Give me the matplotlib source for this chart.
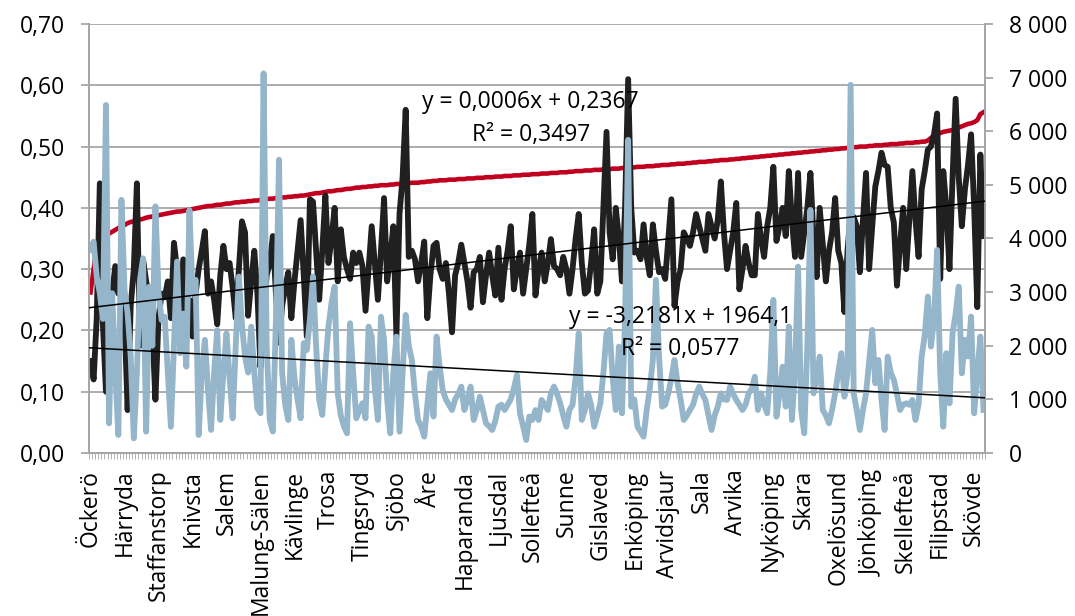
import numpy as np
import matplotlib
matplotlib.use('Agg')
import matplotlib.pyplot as plt
from matplotlib.ticker import FuncFormatter, MultipleLocator

plt.rcParams['font.family'] = ['Open Sans', 'DejaVu Sans']

# every 11th municipality is labelled on the x axis
label_step = 11
labels = ['Öckerö', 'Härryda', 'Staffanstorp', 'Knivsta', 'Salem', 'Malung-Sälen',
          'Kävlinge', 'Trosa', 'Tingsryd', 'Sjöbo', 'Åre', 'Haparanda', 'Ljusdal',
          'Sollefteå', 'Sunne', 'Gislaved', 'Enköping', 'Arvidsjaur', 'Sala', 'Arvika',
          'Nyköping', 'Skara', 'Oxelösund', 'Jönköping', 'Skellefteå', 'Filipstad', 'Skövde']

# red series (left axis), sorted
red = [0.262, 0.30, 0.335, 0.349, 0.352, 0.355, 0.358, 0.361, 0.364, 0.367,
       0.370, 0.372, 0.375, 0.377, 0.378, 0.380, 0.381, 0.382, 0.384, 0.385,
       0.386, 0.387, 0.388, 0.389, 0.390, 0.391, 0.392, 0.393, 0.394, 0.394,
       0.395, 0.396, 0.397, 0.398, 0.399, 0.400, 0.401, 0.402, 0.403, 0.403,
       0.404, 0.405, 0.405, 0.406, 0.407, 0.407, 0.408, 0.409, 0.409, 0.410,
       0.410, 0.411, 0.411, 0.412, 0.412, 0.413, 0.414, 0.414, 0.415, 0.415,
       0.416, 0.416, 0.417, 0.417, 0.418, 0.418, 0.419, 0.419, 0.420, 0.420,
       0.421, 0.422, 0.423, 0.424, 0.424, 0.425, 0.426, 0.427, 0.427, 0.428,
       0.429, 0.429, 0.430, 0.431, 0.431, 0.432, 0.433, 0.433, 0.434, 0.434,
       0.435, 0.435, 0.436, 0.436, 0.437, 0.437, 0.437, 0.438, 0.438, 0.439,
       0.439, 0.439, 0.440, 0.440, 0.441, 0.441, 0.441, 0.442, 0.442, 0.443,
       0.443, 0.444, 0.444, 0.445, 0.445, 0.445, 0.446, 0.446, 0.446, 0.447,
       0.447, 0.447, 0.448, 0.448, 0.448, 0.449, 0.449, 0.449, 0.450, 0.450,
       0.450, 0.451, 0.451, 0.451, 0.452, 0.452, 0.452, 0.453, 0.453, 0.453,
       0.454, 0.454, 0.454, 0.455, 0.455, 0.455, 0.456, 0.456, 0.456, 0.457,
       0.457, 0.457, 0.458, 0.458, 0.458, 0.459, 0.459, 0.460, 0.460, 0.460,
       0.461, 0.461, 0.461, 0.462, 0.462, 0.462, 0.463, 0.463, 0.463, 0.464,
       0.464, 0.464, 0.465, 0.465, 0.465, 0.466, 0.466, 0.467, 0.467, 0.467,
       0.468, 0.468, 0.468, 0.469, 0.469, 0.470, 0.470, 0.470, 0.471, 0.471,
       0.472, 0.472, 0.472, 0.473, 0.473, 0.474, 0.474, 0.475, 0.475, 0.475,
       0.476, 0.476, 0.477, 0.477, 0.478, 0.478, 0.478, 0.479, 0.479, 0.480,
       0.480, 0.481, 0.481, 0.482, 0.482, 0.483, 0.483, 0.484, 0.484, 0.485,
       0.485, 0.486, 0.486, 0.487, 0.487, 0.488, 0.488, 0.489, 0.489, 0.490,
       0.490, 0.491, 0.491, 0.492, 0.492, 0.493, 0.493, 0.494, 0.494, 0.495,
       0.495, 0.496, 0.496, 0.497, 0.497, 0.498, 0.498, 0.499, 0.499, 0.500,
       0.500, 0.500, 0.501, 0.501, 0.502, 0.502, 0.502, 0.503, 0.503, 0.504,
       0.504, 0.504, 0.505, 0.505, 0.506, 0.506, 0.506, 0.507, 0.507, 0.508,
       0.508, 0.510, 0.514, 0.518, 0.520, 0.522, 0.524, 0.525, 0.526, 0.527,
       0.529, 0.531, 0.533, 0.535, 0.537, 0.538, 0.540, 0.543, 0.553, 0.556]

# black series (left axis)
black = [0.15, 0.12, 0.22, 0.44, 0.21, 0.10, 0.20, 0.26, 0.305, 0.26,
         0.27, 0.22, 0.07, 0.24, 0.30, 0.44, 0.175, 0.316, 0.28, 0.257,
         0.20, 0.087, 0.22, 0.26, 0.254, 0.28, 0.22, 0.343, 0.30, 0.22,
         0.316, 0.23, 0.25, 0.19, 0.26, 0.30, 0.33, 0.362, 0.26, 0.28,
         0.25, 0.21, 0.29, 0.338, 0.30, 0.31, 0.27, 0.22, 0.30, 0.378,
         0.36, 0.224, 0.28, 0.33, 0.26, 0.14, 0.22, 0.29, 0.31, 0.354,
         0.26, 0.18, 0.24, 0.27, 0.295, 0.22, 0.28, 0.33, 0.38, 0.29,
         0.19, 0.414, 0.41, 0.33, 0.25, 0.33, 0.42, 0.31, 0.35, 0.40,
         0.28, 0.365, 0.32, 0.30, 0.284, 0.327, 0.31, 0.327, 0.305, 0.232,
         0.30, 0.37, 0.31, 0.25, 0.33, 0.416, 0.28, 0.32, 0.37, 0.19,
         0.39, 0.45, 0.56, 0.32, 0.33, 0.316, 0.28, 0.31, 0.345, 0.22,
         0.29, 0.338, 0.343, 0.30, 0.284, 0.31, 0.26, 0.197, 0.29, 0.31,
         0.34, 0.31, 0.28, 0.237, 0.295, 0.30, 0.32, 0.246, 0.29, 0.327,
         0.29, 0.257, 0.335, 0.25, 0.30, 0.33, 0.37, 0.267, 0.30, 0.327,
         0.26, 0.30, 0.34, 0.39, 0.257, 0.30, 0.327, 0.28, 0.31, 0.349,
         0.305, 0.30, 0.29, 0.32, 0.30, 0.26, 0.30, 0.35, 0.39, 0.31,
         0.26, 0.265, 0.31, 0.365, 0.26, 0.28, 0.40, 0.524, 0.36, 0.316,
         0.40, 0.35, 0.28, 0.40, 0.61, 0.40, 0.327, 0.33, 0.316, 0.373,
         0.32, 0.29, 0.373, 0.33, 0.295, 0.30, 0.284, 0.35, 0.414, 0.24,
         0.28, 0.30, 0.36, 0.35, 0.338, 0.36, 0.39, 0.37, 0.35, 0.33,
         0.39, 0.37, 0.35, 0.38, 0.443, 0.36, 0.30, 0.33, 0.36, 0.408,
         0.267, 0.30, 0.338, 0.31, 0.29, 0.29, 0.39, 0.35, 0.32, 0.37,
         0.40, 0.467, 0.346, 0.37, 0.40, 0.354, 0.46, 0.38, 0.32, 0.457,
         0.32, 0.36, 0.40, 0.457, 0.35, 0.287, 0.40, 0.34, 0.28, 0.33,
         0.36, 0.416, 0.33, 0.31, 0.23, 0.33, 0.39, 0.385, 0.37, 0.295,
         0.38, 0.457, 0.30, 0.37, 0.435, 0.46, 0.49, 0.47, 0.467, 0.40,
         0.376, 0.273, 0.34, 0.40, 0.30, 0.38, 0.46, 0.38, 0.32, 0.43,
         0.46, 0.495, 0.50, 0.52, 0.554, 0.284, 0.46, 0.40, 0.30, 0.45,
         0.578, 0.45, 0.37, 0.43, 0.47, 0.52, 0.40, 0.238, 0.487, 0.354]

# light blue series (right axis)
blue = [3790, 3940, 3290, 2980, 2500, 6490, 553, 2980, 1500, 336,
        4720, 3040, 2600, 1800, 274, 1500, 3228, 3630, 398, 3100,
        2000, 4600, 3000, 2480, 2540, 1500, 490, 2000, 3570, 1860,
        2600, 1610, 4530, 3000, 3230, 336, 1500, 2110, 1200, 430,
        1500, 2290, 616, 1500, 2230, 1400, 647, 2000, 3290, 2400,
        1797, 1500, 2357, 1500, 833, 740, 7080, 2000, 616, 400,
        2500, 5470, 1500, 900, 616, 2110, 1400, 1000, 647, 2050,
        1920, 2500, 3290, 2000, 1000, 709, 1600, 2357, 2800, 3100,
        1113, 700, 500, 367, 2420, 1500, 647, 800, 927, 647,
        2357, 2170, 1200, 616, 2540, 2110, 1000, 367, 1500, 2170,
        398, 1500, 2575, 2000, 1735, 1100, 616, 500, 305, 900,
        1486, 680, 2170, 1600, 1170, 1000, 900, 802, 1000, 1100,
        1238, 802, 1000, 1238, 616, 800, 1050, 800, 553, 500,
        429, 600, 864, 900, 802, 900, 1000, 1200, 1455, 740,
        500, 242, 680, 616, 800, 616, 989, 900, 802, 1113,
        1238, 1100, 927, 700, 491, 802, 900, 1400, 2233, 616,
        800, 1113, 900, 491, 700, 927, 1500, 2233, 2295, 1400,
        802, 1984, 740, 2500, 5840, 864, 1000, 491, 400, 305,
        800, 1200, 1735, 3228, 1800, 864, 900, 1113, 1400, 1735,
        1300, 989, 616, 700, 802, 900, 1100, 1238, 1100, 989,
        700, 429, 700, 864, 1113, 1000, 989, 1238, 1100, 989,
        900, 802, 900, 1113, 1200, 1424, 802, 1113, 900, 740,
        1500, 2855, 678, 1100, 1610, 864, 2357, 616, 1500, 3476,
        802, 367, 2000, 4533, 1113, 1400, 1797, 802, 700, 553,
        800, 1113, 1500, 1860, 1050, 1500, 6866, 1113, 800, 429,
        800, 1113, 1700, 2295, 1300, 1735, 1000, 429, 1797, 1500,
        1362, 1100, 802, 900, 927, 900, 989, 616, 900, 1797,
        2200, 2917, 1984, 2500, 3787, 1500, 491, 1860, 927, 2233,
        2600, 3103, 1486, 2110, 1800, 2543, 740, 1500, 2170, 802]

# linear trendlines as shown in the chart: slope, intercept, R²
black_trend = (0.0006, 0.2367, 0.3497)
blue_trend = (-3.2181, 1964.1, 0.0577)

RED = '#c0001e'
BLACK = '#202020'
BLUE = '#95b5ca'
GRID = '#a6a6a6'
FS = 16.5


def comma(v, nd):
    return f'{v:.{nd}f}'.replace('.', ',')


def trend_text(t, nd):
    slope, icpt, r2 = t
    sign = '+' if icpt >= 0 else '-'
    s = f'{slope:.4f}'.replace('.', ',')
    return f'y = {s}x {sign} {comma(abs(icpt), nd)}\nR² = {comma(r2, 4)}'


fig = plt.figure(figsize=(10.75, 6.16), dpi=100)
ax = fig.add_axes([89 / 1075, 1 - 453 / 616, 896 / 1075, 429 / 616])
ax2 = ax.twinx()

n = len(black)
x = np.arange(n)
xe = np.array([-0.5, n - 0.5])

ax.plot(np.arange(len(red)), red, color=RED, lw=3.3, solid_joinstyle='round', zorder=2)
ax.plot(x, black, color=BLACK, lw=4.2, solid_joinstyle='round', zorder=3)
ax2.plot(np.arange(len(blue)), blue, color=BLUE, lw=4.2, solid_joinstyle='round', zorder=2)

# trendlines (excel numbers categories from 1)
ax2.plot(xe, black_trend[0] * (xe + 1) + black_trend[1], color='black', lw=1.1,
         transform=ax.transData, zorder=5)
ax2.plot(xe, blue_trend[0] * (xe + 1) + blue_trend[1], color='black', lw=1.1, zorder=5)

ax2.text(0.493, 0.779, trend_text(black_trend, 4), transform=ax.transAxes, ha='center',
         va='center', fontsize=FS, linespacing=1.5, zorder=6)
ax2.text(0.66, 0.28, trend_text(blue_trend, 1), transform=ax.transAxes, ha='center',
         va='center', fontsize=FS, linespacing=1.45, zorder=6)

ax.set_xlim(-0.5, n - 0.5)
ax.set_ylim(0, 0.70)
ax2.set_ylim(0, 8000)

ax.yaxis.set_major_locator(MultipleLocator(0.1))
ax.yaxis.set_major_formatter(FuncFormatter(lambda v, p: comma(v, 2)))
ax2.yaxis.set_major_locator(MultipleLocator(1000))
ax2.yaxis.set_major_formatter(FuncFormatter(lambda v, p: f'{int(round(v)):,}'.replace(',', ' ')))

ax.set_xticks(np.arange(0, n, label_step)[:len(labels)])
ax.set_xticklabels(labels, rotation=90, fontsize=FS)
ax.set_xticks(np.arange(-0.5, n, 1), minor=True)

ax.grid(axis='y', color=GRID, lw=1.3)
ax.set_axisbelow(True)

for a in (ax, ax2):
    a.spines['top'].set_visible(False)
    for s in ('left', 'right', 'bottom'):
        a.spines[s].set_color(GRID)
        a.spines[s].set_linewidth(1.3)

ax.tick_params(axis='y', labelsize=FS, length=6, width=1.3, color=GRID, pad=11)
ax2.tick_params(axis='y', labelsize=FS, length=6, width=1.3, color=GRID, pad=11)
ax.tick_params(axis='x', which='major', length=0, pad=12)
ax.tick_params(axis='x', which='minor', length=4, width=0.6, color=GRID)

fig.savefig('out.png', dpi=100)
